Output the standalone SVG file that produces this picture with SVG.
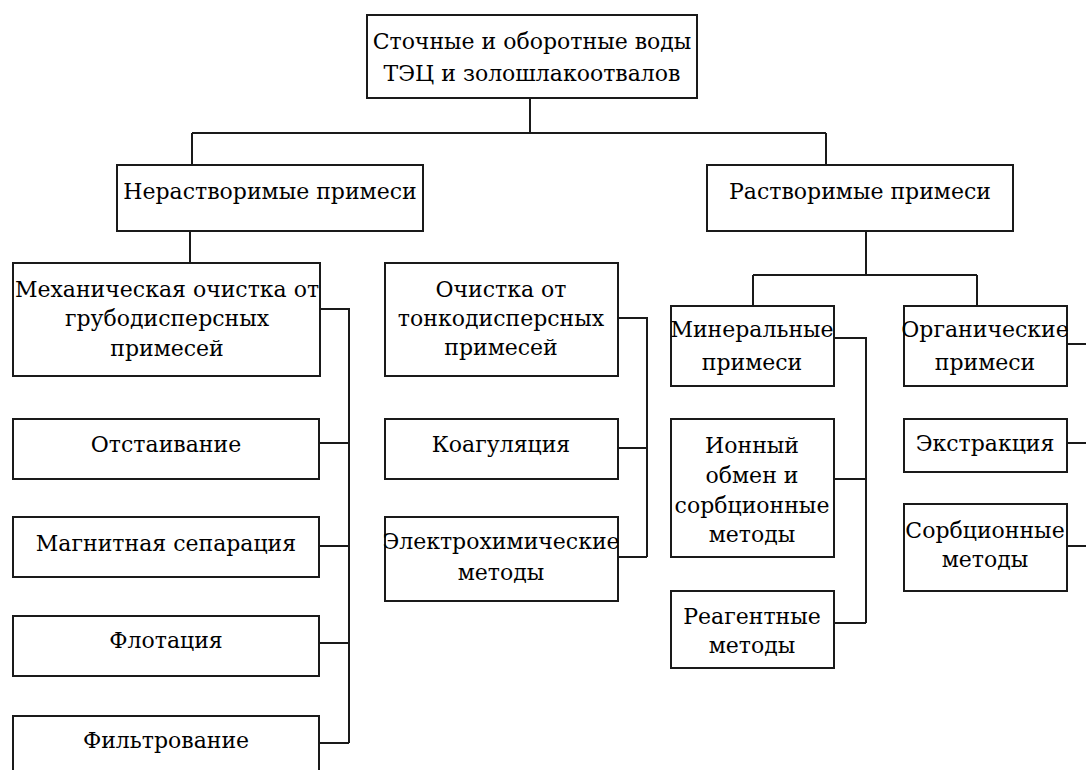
<svg xmlns="http://www.w3.org/2000/svg" width="1086" height="770" viewBox="0 0 1086 770">
<style>
rect{fill:#fff;stroke:#1a1a1a;stroke-width:2}
text{font-family:'DejaVu Serif','Liberation Serif',serif;font-size:22px;fill:#000;text-anchor:middle}
.c{fill:none;stroke:#1a1a1a;stroke-width:2}
</style>
<rect x="0" y="0" width="1086" height="770" style="stroke:none"/>
<g id="connectors">
<path class="c" d="M530 98V133M192 133H826M192 133V165M826 133V165"/>
<path class="c" d="M190 231V263"/>
<path class="c" d="M866 231V275M753 275H977M753 275V306M977 275V306"/>
<path class="c" d="M320 309H349V743M319 443H349M319 546H349M319 643H349M319 743H349"/>
<path class="c" d="M618 318H647V557M618 448H647M618 557H647"/>
<path class="c" d="M834 338H866V623M834 479H866M834 623H866"/>
<path class="c" d="M1067 344H1086M1067 443H1086M1067 546H1086"/>
</g>
<g id="n-root"><rect x="367" y="15" width="330" height="83"/><text x="532" y="49">Сточные и оборотные воды</text><text x="532" y="81">ТЭЦ и золошлакоотвалов</text></g>
<g id="n-insol"><rect x="117" y="165" width="306" height="66"/><text x="270" y="199">Нерастворимые примеси</text></g>
<g id="n-sol"><rect x="707" y="165" width="306" height="66"/><text x="860" y="199">Растворимые примеси</text></g>
<g id="n-mech"><rect x="13" y="263" width="307" height="113"/><text x="167" y="297">Механическая очистка от</text><text x="167" y="326">грубодисперсных</text><text x="167" y="356">примесей</text></g>
<g id="n-fine"><rect x="385" y="263" width="233" height="113"/><text x="501" y="297">Очистка от</text><text x="501" y="326">тонкодисперсных</text><text x="501" y="355">примесей</text></g>
<g id="n-settle"><rect x="13" y="419" width="306" height="60"/><text x="166" y="452">Отстаивание</text></g>
<g id="n-magn"><rect x="13" y="517" width="306" height="60"/><text x="166" y="551">Магнитная сепарация</text></g>
<g id="n-flot"><rect x="13" y="616" width="306" height="60"/><text x="166" y="648">Флотация</text></g>
<g id="n-filt"><rect x="13" y="716" width="306" height="80"/><text x="166" y="748">Фильтрование</text></g>
<g id="n-coag"><rect x="385" y="419" width="233" height="60"/><text x="501" y="452">Коагуляция</text></g>
<g id="n-electro"><rect x="385" y="517" width="233" height="84"/><text x="501" y="549">Электрохимические</text><text x="501" y="580">методы</text></g>
<g id="n-mineral"><rect x="671" y="306" width="163" height="80"/><text x="752" y="337">Минеральные</text><text x="752" y="370">примеси</text></g>
<g id="n-organic"><rect x="904" y="306" width="163" height="80"/><text x="985" y="337">Органические</text><text x="985" y="370">примеси</text></g>
<g id="n-ion"><rect x="671" y="419" width="163" height="138"/><text x="752" y="453">Ионный</text><text x="752" y="483">обмен и</text><text x="752" y="513">сорбционные</text><text x="752" y="542">методы</text></g>
<g id="n-reag"><rect x="671" y="591" width="163" height="77"/><text x="752" y="624">Реагентные</text><text x="752" y="653">методы</text></g>
<g id="n-extr"><rect x="904" y="419" width="163" height="53"/><text x="985" y="451">Экстракция</text></g>
<g id="n-sorb"><rect x="904" y="504" width="163" height="87"/><text x="985" y="538">Сорбционные</text><text x="985" y="567">методы</text></g>
</svg>
